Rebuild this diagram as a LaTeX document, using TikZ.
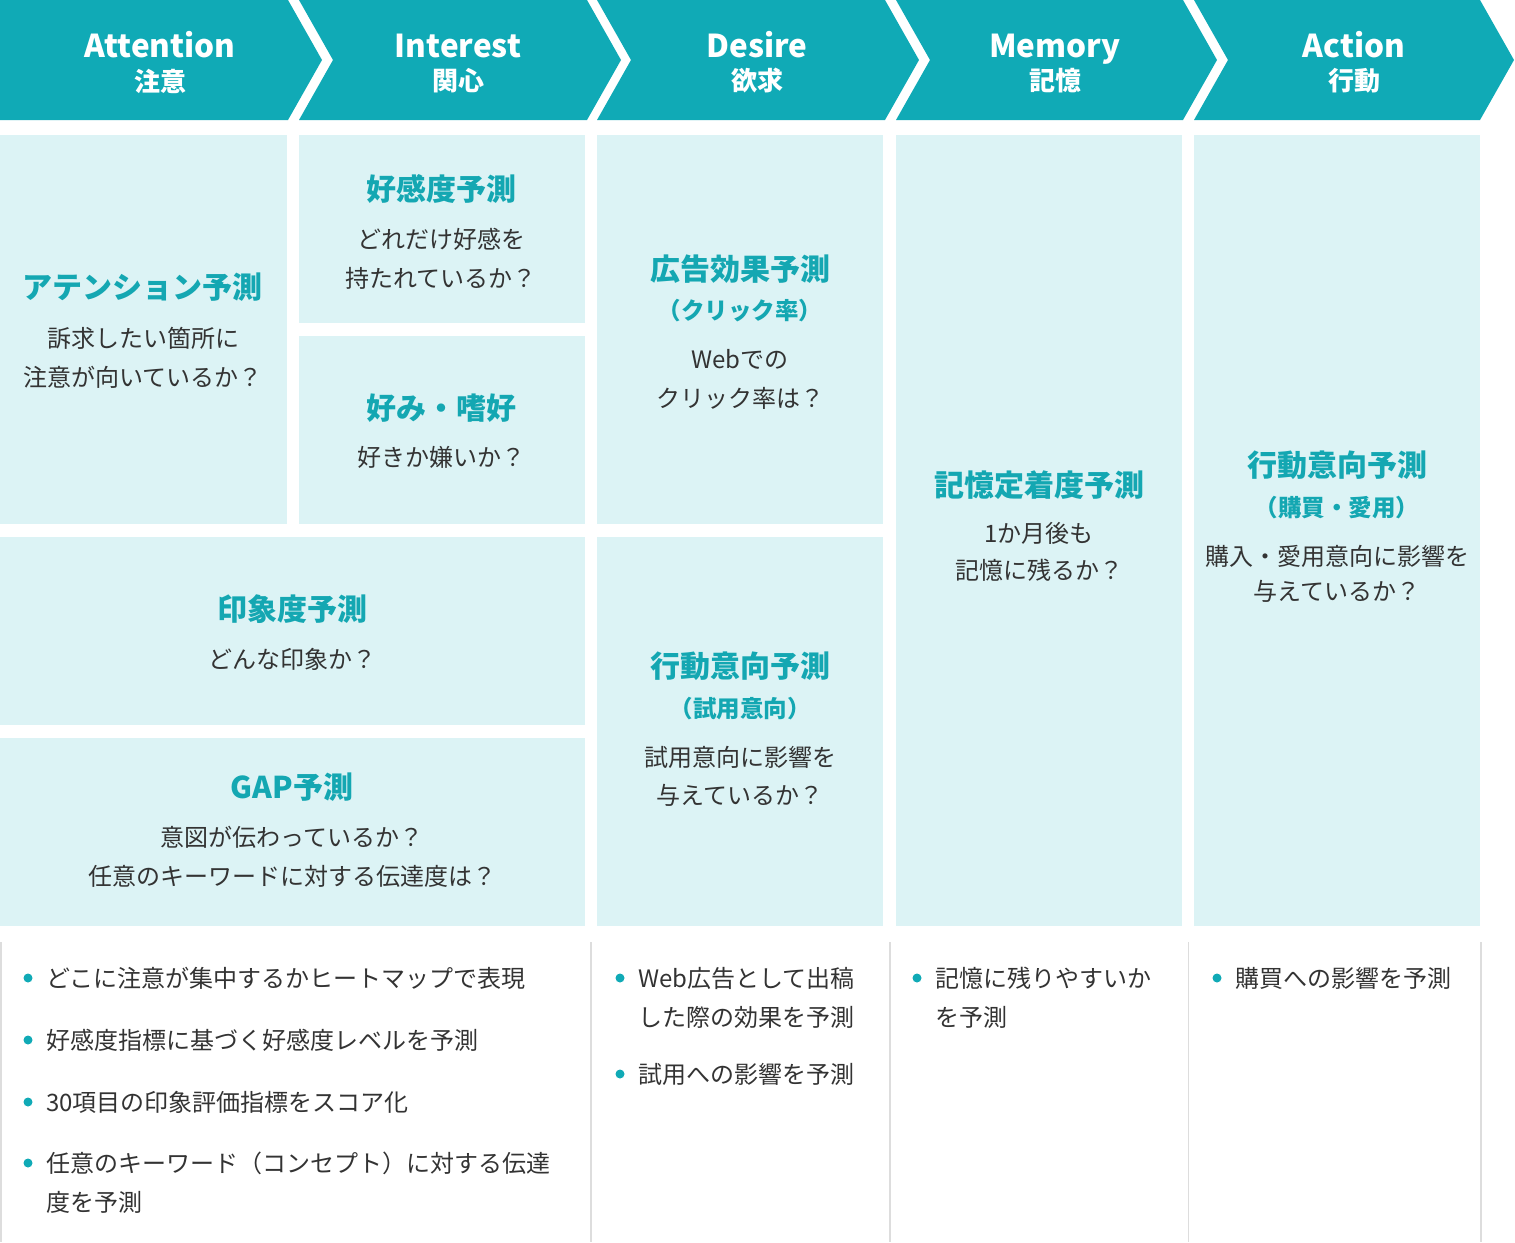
\documentclass[tikz,border=0pt]{standalone}
\usepackage{fontspec}
\setmainfont{Noto Sans CJK JP}
\definecolor{hdrc}{HTML}{10AAB6}
\definecolor{cellc}{HTML}{DCF3F5}
\definecolor{ttlc}{HTML}{14A7B2}
\definecolor{txtc}{HTML}{333333}
\definecolor{glinec}{HTML}{DDDDDD}
\begin{document}
\begin{tikzpicture}[x=1pt,y=-1pt,
  hdrtxt/.style={inner sep=0pt,anchor=base,text=white,font=\bfseries\fontsize{31.5}{36}\selectfont},
  hdrsub/.style={inner sep=0pt,text=white,font=\bfseries\fontsize{26}{30}\selectfont},
  cellbox/.style={inner sep=0pt,fill=cellc,draw=none,anchor=north west},
  ttl/.style={inner sep=0pt,text=ttlc,font=\bfseries\fontsize{30}{36}\selectfont},
  subttl/.style={inner sep=0pt,text=ttlc,font=\bfseries\fontsize{23.5}{28}\selectfont},
  body/.style={inner sep=0pt,text=txtc,font=\fontsize{24}{28}\selectfont},
  blt/.style={inner sep=0pt,text=txtc,anchor=west,font=\fontsize{24}{28}\selectfont},
  dot/.style={circle,fill=hdrc,inner sep=0pt,minimum size=9pt},
  gline/.style={draw=glinec,line width=1.5pt}]
\useasboundingbox (0,0) rectangle (1515,1242);
% header chevrons
\fill[hdrc] (0,0) -- (288,0) -- (322,60) -- (288,120) -- (0,120) -- cycle;
\foreach \L/\R in {299/587,597/885,896/1183,1194/1480}{
  \fill[hdrc] (\L,0) -- (\R,0) -- (\R+34,60) -- (\R,120) -- (\L,120) -- (\L+34,60) -- cycle;
}
\node[hdrtxt] (h1) at (160,57) {Attention};
\node[hdrsub] (h1j) at (160,81) {注意};
\node[hdrtxt] (h2) at (458,57) {Interest};
\node[hdrsub] (h2j) at (458,81) {関心};
\node[hdrtxt] (h3) at (757,57) {Desire};
\node[hdrsub] (h3j) at (757,81) {欲求};
\node[hdrtxt] (h4) at (1055,57) {Memory};
\node[hdrsub] (h4j) at (1055,81) {記憶};
\node[hdrtxt] (h5) at (1354,57) {Action};
\node[hdrsub] (h5j) at (1354,81) {行動};
% cells
\node[cellbox,minimum width=287pt,minimum height=389pt] (c1) at (0,135) {};
\node[cellbox,minimum width=286pt,minimum height=188pt] (c2) at (299,135) {};
\node[cellbox,minimum width=286pt,minimum height=188pt] (c3) at (299,336) {};
\node[cellbox,minimum width=585pt,minimum height=188pt] (c4) at (0,537) {};
\node[cellbox,minimum width=585pt,minimum height=188pt] (c5) at (0,738) {};
\node[cellbox,minimum width=286pt,minimum height=389pt] (c6) at (597,135) {};
\node[cellbox,minimum width=286pt,minimum height=389pt] (c7) at (597,537) {};
\node[cellbox,minimum width=286pt,minimum height=791pt] (c8) at (896,135) {};
\node[cellbox,minimum width=286pt,minimum height=791pt] (c9) at (1194,135) {};
% Attention cell
\node[ttl] (t1) at (143,287) {アテンション予測};
\node[body] (b1a) at (143,338) {訴求したい箇所に};
\node[body] (b1b) at (143,377) {注意が向いているか？};
% Interest cells
\node[ttl] (t2) at (441,189) {好感度予測};
\node[body] (b2a) at (441,239) {どれだけ好感を};
\node[body] (b2b) at (441,278) {持たれているか？};
\node[ttl] (t3) at (441,408) {好み・嗜好};
\node[body] (b3a) at (441,457) {好きか嫌いか？};
% wide cells
\node[ttl] (t4) at (292,609) {印象度予測};
\node[body] (b4a) at (292,659) {どんな印象か？};
\node[ttl] (t5) at (292,787) {GAP予測};
\node[body] (b5a) at (292,837) {意図が伝わっているか？};
\node[body] (b5b) at (292,876) {任意のキーワードに対する伝達度は？};
% Desire cells
\node[ttl] (t6) at (740,269) {広告効果予測};
\node[subttl] (s6) at (740,311) {（クリック率）};
\node[body] (b6a) at (740,359) {Webでの};
\node[body] (b6b) at (740,398) {クリック率は？};
\node[ttl] (t7) at (740,666) {行動意向予測};
\node[subttl] (s7) at (740,709) {（試用意向）};
\node[body] (b7a) at (740,757) {試用意向に影響を};
\node[body] (b7b) at (740,795) {与えているか？};
% Memory cell
\node[ttl] (t8) at (1039,485) {記憶定着度予測};
\node[body] (b8a) at (1039,533) {1か月後も};
\node[body] (b8b) at (1039,570) {記憶に残るか？};
% Action cell
\node[ttl] (t9) at (1337,465) {行動意向予測};
\node[subttl] (s9) at (1337,508) {（購買・愛用）};
\node[body] (b9a) at (1337,556) {購入・愛用意向に影響を};
\node[body] (b9b) at (1337,591) {与えているか？};
% bottom separators
\foreach \X in {1,591,890,1188.5,1481}{
  \draw[gline] (\X,942) -- (\X,1242);
}
% bullets col 1
\node[dot] (d1) at (28,978) {};
\node[blt] (l1) at (46,978) {どこに注意が集中するかヒートマップで表現};
\node[dot] (d2) at (28,1040) {};
\node[blt] (l2) at (46,1040) {好感度指標に基づく好感度レベルを予測};
\node[dot] (d3) at (28,1102) {};
\node[blt] (l3) at (46,1102) {30項目の印象評価指標をスコア化};
\node[dot] (d4) at (28,1163) {};
\node[blt] (l4) at (46,1163) {任意のキーワード（コンセプト）に対する伝達};
\node[blt] (l4b) at (46,1202) {度を予測};
% bullets col 3
\node[dot] (d5) at (620,978) {};
\node[blt] (l5) at (638,978) {Web広告として出稿};
\node[blt] (l5b) at (638,1017) {した際の効果を予測};
\node[dot] (d6) at (620,1074) {};
\node[blt] (l6) at (638,1074) {試用への影響を予測};
% bullets col 4
\node[dot] (d7) at (917,978) {};
\node[blt] (l7) at (935,978) {記憶に残りやすいか};
\node[blt] (l7b) at (935,1017) {を予測};
% bullets col 5
\node[dot] (d8) at (1217,978) {};
\node[blt] (l8) at (1235,978) {購買への影響を予測};
\end{tikzpicture}
\end{document}
